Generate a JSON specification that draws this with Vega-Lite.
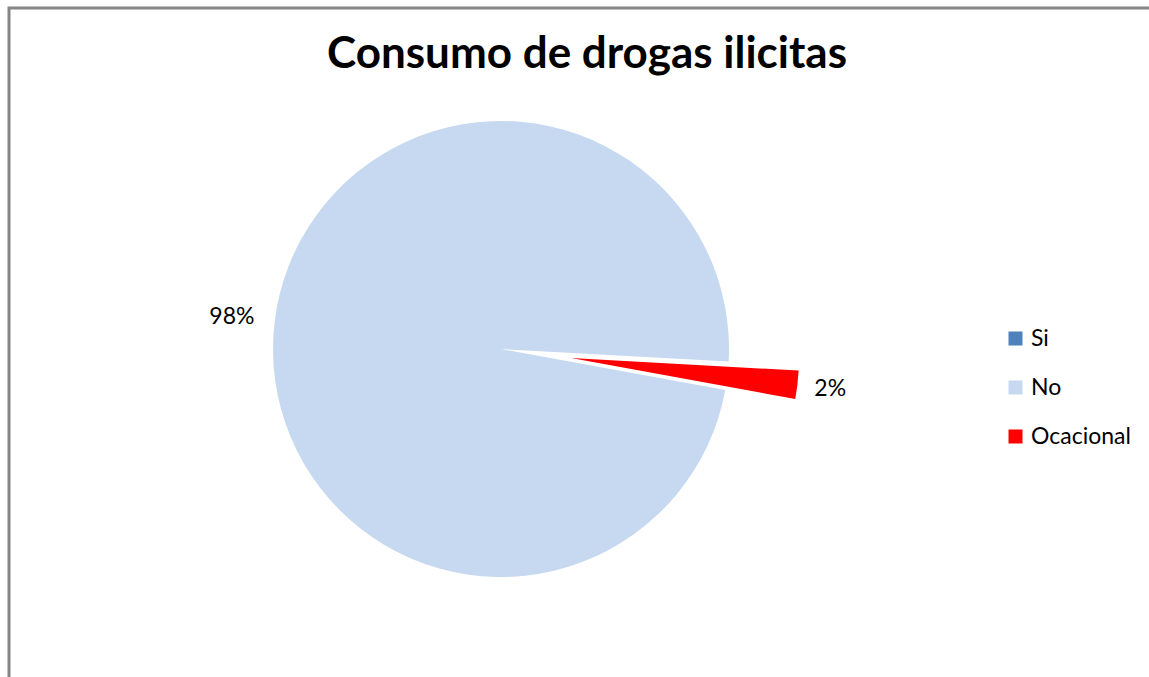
{
  "$schema": "https://vega.github.io/schema/vega-lite/v6.json",
  "width": 1160,
  "height": 689,
  "autosize": "none",
  "padding": {"left": 9, "top": 8, "right": 0, "bottom": 0},
  "background": "white",
  "view": {"stroke": "#868686", "strokeWidth": 3, "fill": "white"},
  "title": {
    "text": "Consumo de drogas ilicitas",
    "font": "Lato",
    "fontSize": 44,
    "fontWeight": "bold",
    "color": "#000000",
    "anchor": "middle",
    "baseline": "alphabetic",
    "offset": -104,
    "dx": -2
  },
  "config": {
    "legend": {
      "orient": "none",
      "legendX": 995,
      "legendY": 319,
      "padding": 0,
      "labelFont": "Lato",
      "labelFontSize": 23,
      "labelColor": "#000000",
      "symbolType": "square",
      "symbolSize": 196,
      "symbolStrokeWidth": 0,
      "rowPadding": 25,
      "labelOffset": 4
    }
  },
  "data": {
    "values": [
      {"cat": "Si", "value": 0, "label": ""},
      {"cat": "No", "value": 98, "label": "98%"},
      {"cat": "Ocacional", "value": 2, "label": "2%"}
    ]
  },
  "encoding": {
    "theta": {"field": "value", "type": "quantitative", "stack": true, "scale": {"range": [1.752, 8.035]}},
    "order": {"field": "cat", "type": "ordinal"},
    "color": {
      "field": "cat",
      "type": "nominal",
      "scale": {"domain": ["Si", "No", "Ocacional"], "range": ["#4F81BD", "#C6D9F1", "#FF0000"]},
      "legend": {"title": null}
    }
  },
  "layer": [
    {
      "mark": {"type": "arc", "x": 492, "y": 341, "radius": 228},
      "encoding": {
        "opacity": {"condition": {"test": "datum.cat === 'Ocacional'", "value": 0}, "value": 1}
      }
    },
    {
      "mark": {"type": "arc", "x": 562, "y": 350, "radius": 228},
      "encoding": {
        "opacity": {"condition": {"test": "datum.cat === 'Ocacional'", "value": 1}, "value": 0}
      }
    },
    {
      "mark": {"type": "text", "x": 492, "y": 341, "radius": 271, "font": "Lato", "fontSize": 23},
      "encoding": {
        "color": {"value": "#000000"},
        "text": {"condition": {"test": "datum.cat === 'No'", "field": "label"}, "value": ""}
      }
    },
    {
      "mark": {"type": "text", "x": 562, "y": 350, "radius": 261, "font": "Lato", "fontSize": 23},
      "encoding": {
        "color": {"value": "#000000"},
        "text": {"condition": {"test": "datum.cat === 'Ocacional'", "field": "label"}, "value": ""}
      }
    }
  ]
}
